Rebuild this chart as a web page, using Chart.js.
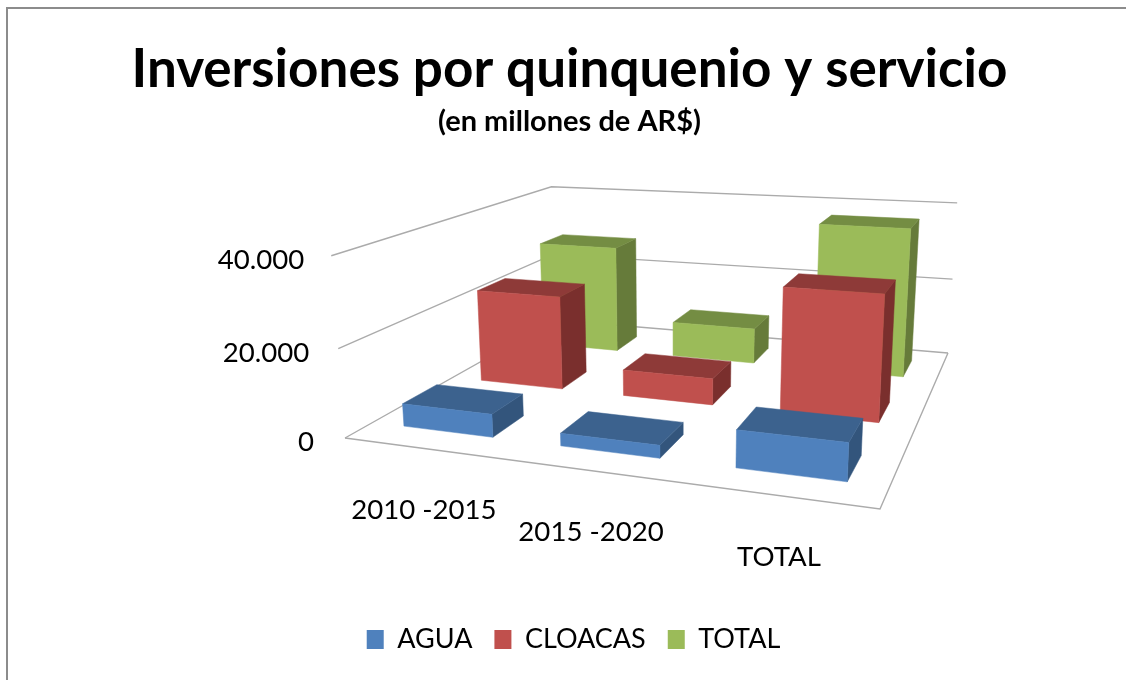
<!DOCTYPE html>
<html lang="es">
<head>
<meta charset="utf-8">
<title>Inversiones por quinquenio y servicio</title>
<script src="https://cdn.jsdelivr.net/npm/chart.js@4/dist/chart.umd.min.js"></script>
<style>
  html, body { margin: 0; padding: 0; background: #fff; }
  canvas { display: block; }
</style>
</head>
<body>
<canvas id="inversiones" width="1126" height="680"></canvas>
<script>
// datos
const quinquenios = ['2010 -2015', '2015 -2020', 'TOTAL'];
const agua = [5200, 2800, 8000];
const cloacas = [22900, 6300, 29000];
const total = [28100, 9100, 37100];
const maxEje = 40000;
const pasoEje = 20000;

// colores: frente, arriba, costado
const coloresAgua = ['#4F81BD', '#3C628E', '#33557C'];
const coloresCloacas = ['#C0504D', '#8E3A38', '#7A2F2D'];
const coloresTotal = ['#9BBB59', '#748D43', '#667B3A'];

const fuente = 'Lato, Carlito, sans-serif';

// vista en perspectiva: piso (u, v entre 0 y 1) y altura h (1 = tope del eje)
const vista = {
  a: 393.1, b: 426.0, c: 345,
  d: -11.08, e: 6.55, f: 438,
  g: -0.16125, k: 0.38923,
  cx: -27, cy: -192.5, cw: -0.04
};

function proyectar(u, v, h) {
  const w = vista.g * u + vista.k * v + 1 + vista.cw * h;
  return {
    x: (vista.a * u + vista.b * v + vista.c + vista.cx * h) / w,
    y: (vista.d * u + vista.e * v + vista.f + vista.cy * h) / w
  };
}

function poligono(ctx, puntos, color) {
  ctx.beginPath();
  puntos.forEach((p, i) => i === 0 ? ctx.moveTo(p.x, p.y) : ctx.lineTo(p.x, p.y));
  ctx.closePath();
  ctx.fillStyle = color;
  ctx.fill();
  ctx.strokeStyle = color;
  ctx.lineWidth = 0.5;
  ctx.stroke();
}

function linea(ctx, puntos) {
  ctx.beginPath();
  puntos.forEach((p, i) => i === 0 ? ctx.moveTo(p.x, p.y) : ctx.lineTo(p.x, p.y));
  ctx.stroke();
}

const barras3d = {
  id: 'barras3d',
  afterLayout(chart) {
    // la leyenda del original esta un poco corrida a la derecha del titulo
    chart.legend.left += 4;
    chart.legend.right += 4;
  },
  beforeDatasetsDraw(chart) {
    const ctx = chart.ctx;
    const area = chart.chartArea;
    const x = chart.scales.x;
    const y = chart.scales.y;
    const alto = y.getPixelForValue(0) - y.getPixelForValue(maxEje);
    const n = chart.data.datasets.length;

    ctx.save();

    // marco del grafico
    ctx.strokeStyle = '#8c8c8c';
    ctx.lineWidth = 2;
    linea(ctx, [{x: 7, y: 680}, {x: 7, y: 8}, {x: 1126, y: 8}]);

    // piso y lineas de division
    ctx.strokeStyle = '#ababab';
    ctx.lineWidth = 1.4;
    linea(ctx, [proyectar(1, 1, 0), proyectar(1, 0, 0), proyectar(0, 0, 0)]);
    y.ticks.forEach(t => {
      const h = (y.getPixelForValue(0) - y.getPixelForValue(t.value)) / alto;
      linea(ctx, [proyectar(0, 0, h), proyectar(0, 1, h), proyectar(1, 1, h)]);
    });

    // del fondo hacia adelante
    for (let d = n - 1; d >= 0; d--) {
      const meta = chart.getDatasetMeta(d);
      const colores = chart.data.datasets[d].colores3d;
      const v0 = (d + 0.3) / n;
      const v1 = (d + 0.71) / n;
      meta.data.forEach(barra => {
        const u0 = (barra.x - barra.width / 2 - area.left) / area.width;
        const u1 = (barra.x + barra.width / 2 - area.left) / area.width;
        const h = (barra.base - barra.y) / alto;
        poligono(ctx, [proyectar(u1, v0, 0), proyectar(u1, v1, 0), proyectar(u1, v1, h), proyectar(u1, v0, h)], colores[2]);
        poligono(ctx, [proyectar(u0, v0, h), proyectar(u1, v0, h), proyectar(u1, v1, h), proyectar(u0, v1, h)], colores[1]);
        poligono(ctx, [proyectar(u0, v0, 0), proyectar(u1, v0, 0), proyectar(u1, v0, h), proyectar(u0, v0, h)], colores[0]);
      });
    }

    // etiquetas de los ejes, escalonadas como en el original
    ctx.fillStyle = '#000';
    ctx.font = '27.6px ' + fuente;
    ctx.textBaseline = 'middle';
    ctx.textAlign = 'right';
    y.ticks.forEach(t => {
      const h = (y.getPixelForValue(0) - y.getPixelForValue(t.value)) / alto;
      const p = proyectar(0, 0, h);
      ctx.fillText(t.label, p.x - 31 + 4 * h, p.y + 4);
    });
    ctx.textAlign = 'center';
    x.ticks.forEach((t, i) => {
      const u = (x.getPixelForTick(i) - area.left) / area.width;
      const p = proyectar(u, 0, 0);
      ctx.fillText(x.getLabelForValue(t.value), p.x + 2, p.y + 62);
    });

    ctx.restore();
    return false;
  }
};

new Chart(document.getElementById('inversiones'), {
  type: 'bar',
  data: {
    labels: quinquenios,
    datasets: [
      { label: 'AGUA', data: agua, backgroundColor: coloresAgua[0], colores3d: coloresAgua },
      { label: 'CLOACAS', data: cloacas, backgroundColor: coloresCloacas[0], colores3d: coloresCloacas },
      { label: 'TOTAL', data: total, backgroundColor: coloresTotal[0], colores3d: coloresTotal }
    ]
  },
  options: {
    responsive: false,
    animation: false,
    grouped: false,
    barPercentage: 0.58,
    categoryPercentage: 1,
    layout: { padding: { left: 13, top: 38, bottom: 17 } },
    plugins: {
      title: {
        display: true,
        text: 'Inversiones por quinquenio y servicio',
        color: '#000',
        font: { family: fuente, size: 53, weight: 'bold' },
        padding: { top: 0, bottom: 3 }
      },
      subtitle: {
        display: true,
        text: '(en millones de AR$)',
        color: '#000',
        font: { family: fuente, size: 29, weight: 'bold' },
        padding: { top: 0, bottom: 20 }
      },
      legend: {
        position: 'bottom',
        labels: {
          color: '#000',
          boxWidth: 17,
          boxHeight: 19,
          padding: 22,
          font: { family: fuente, size: 27 }
        }
      },
      tooltip: { enabled: false }
    },
    scales: {
      x: {
        grid: { display: false },
        border: { display: false },
        ticks: { display: false }
      },
      y: {
        min: 0,
        max: maxEje,
        grid: { display: false },
        border: { display: false },
        ticks: {
          display: false,
          stepSize: pasoEje,
          callback: function(value) {
            return value.toLocaleString('es-AR');
          }
        }
      }
    }
  },
  plugins: [barras3d]
});
</script>
</body>
</html>
